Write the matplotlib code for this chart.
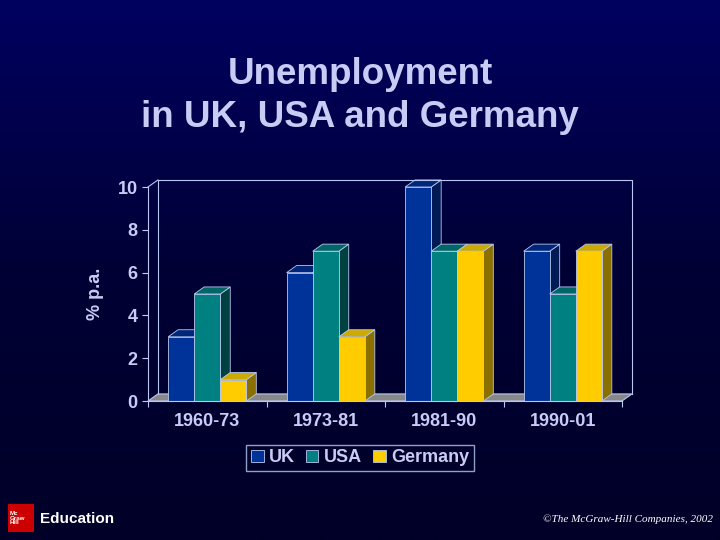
import numpy as np
import matplotlib.pyplot as plt
from matplotlib.patches import Polygon, Rectangle
from matplotlib.colors import LinearSegmentedColormap

plt.rcParams['font.family'] = ['Liberation Sans', 'DejaVu Sans']

periods = ["1960-73", "1973-81", "1981-90", "1990-01"]
uk = [3, 6, 10, 7]
usa = [5, 7, 7, 5]
germany = [1, 3, 7, 7]
series = [("UK", uk), ("USA", usa), ("Germany", germany)]
colors = {"UK": ("#003399", "#00267a", "#001a55"),
          "USA": ("#008080", "#006666", "#004040"),
          "Germany": ("#ffcc00", "#ccaa00", "#8a7000")}
txt = "#c8ccf4"
edge = "#b8c8f0"

fig = plt.figure(figsize=(7.2, 5.4), dpi=100)
bg = fig.add_axes([0, 0, 1, 1])
grad = np.linspace(0, 1, 256).reshape(-1, 1)
cmap = LinearSegmentedColormap.from_list("bg", ["#000060", "#000035", "#000028"])
bg.imshow(grad, aspect="auto", cmap=cmap, extent=[0, 1, 0, 1])
bg.axis("off")

fig.text(0.5, 0.862, "Unemployment", ha="center", va="center", fontsize=26.5,
         fontweight="bold", color=txt)
fig.text(0.5, 0.782, "in UK, USA and Germany", ha="center", va="center",
         fontsize=26.5, fontweight="bold", color=txt)

ax = fig.add_axes([148 / 720, 139 / 540, 474 / 720, 214 / 540])
ax.set_xlim(0, 4)
ax.set_ylim(0, 10)
ax.patch.set_alpha(0)
dx, dy = 0.084, 0.33
w = 0.22

# пол и задние стенки
ax.add_patch(Polygon([[0, 0], [4, 0], [4 + dx, dy], [dx, dy]], closed=True,
                     facecolor="#888888", edgecolor=edge, lw=0.8, clip_on=False))
ax.plot([dx, dx, 4 + dx, 4 + dx], [dy, 10 + dy, 10 + dy, dy], color=edge, lw=0.8, clip_on=False)
ax.plot([0, dx], [10, 10 + dy], color=edge, lw=0.8, clip_on=False)

for i in range(4):
    for j, (name, vals) in enumerate(series):
        x0 = i + 0.5 + (j - 1.5) * w
        h = vals[i]
        front, top, side = colors[name]
        ax.add_patch(Polygon([[x0 + w, 0], [x0 + w + dx, dy], [x0 + w + dx, h + dy], [x0 + w, h]],
                             facecolor=side, edgecolor=edge, lw=0.6, clip_on=False))
        ax.add_patch(Polygon([[x0, h], [x0 + w, h], [x0 + w + dx, h + dy], [x0 + dx, h + dy]],
                             facecolor=top, edgecolor=edge, lw=0.6, clip_on=False))
        ax.add_patch(Rectangle((x0, 0), w, h, facecolor=front, edgecolor=edge, lw=0.6, clip_on=False))

for s in ["top", "right"]:
    ax.spines[s].set_visible(False)
for s in ["left", "bottom"]:
    ax.spines[s].set_color(edge)
ax.set_yticks(range(0, 11, 2))
ax.set_xticks([0, 1, 2, 3, 4])
ax.set_xticklabels([])
ax.set_xticks([0.5, 1.5, 2.5, 3.5], minor=True)
ax.set_xticklabels(periods, minor=True)
ax.tick_params(which="both", colors=txt, labelsize=13, direction="out", length=4)
ax.tick_params(axis="x", which="minor", length=0, pad=9)
ax.tick_params(axis="x", which="major", color=edge)
for lab in ax.get_yticklabels() + ax.get_xticklabels(minor=True):
    lab.set_fontweight("bold")
ax.set_ylabel("% p.a.", color=txt, fontsize=13, fontweight="bold", labelpad=10)

handles = [Rectangle((0, 0), 1, 1, facecolor=colors[n][0], edgecolor=edge, lw=0.6) for n, _ in series]
leg = fig.legend(handles, [n for n, _ in series], loc="center", bbox_to_anchor=(0.5, 0.152),
                 ncol=3, frameon=True, fontsize=13, handlelength=0.7, handleheight=0.7,
                 handletextpad=0.3, columnspacing=0.6, borderpad=0.25, fancybox=False)
leg.get_frame().set_facecolor("none")
leg.get_frame().set_edgecolor(edge)
for t in leg.get_texts():
    t.set_color(txt)
    t.set_fontweight("bold")

# логотип
fig.patches.append(Rectangle((8 / 720, 8 / 540), 26 / 720, 28 / 540, transform=fig.transFigure,
                             facecolor="#cc0000", edgecolor="none"))
fig.text(10 / 720, 22 / 540, "Mc\nGraw\nHill", color="white", fontsize=4.5, fontweight="bold",
         va="center", ha="left", linespacing=0.9)
fig.text(40 / 720, 21 / 540, "Education", color="white", fontsize=11, fontweight="bold", va="center")
fig.text(0.99, 21 / 540, "©The McGraw-Hill Companies, 2002", color="white", fontsize=8,
         style="italic", family="Liberation Serif", ha="right", va="center")

fig.savefig("out.png", dpi=100)
